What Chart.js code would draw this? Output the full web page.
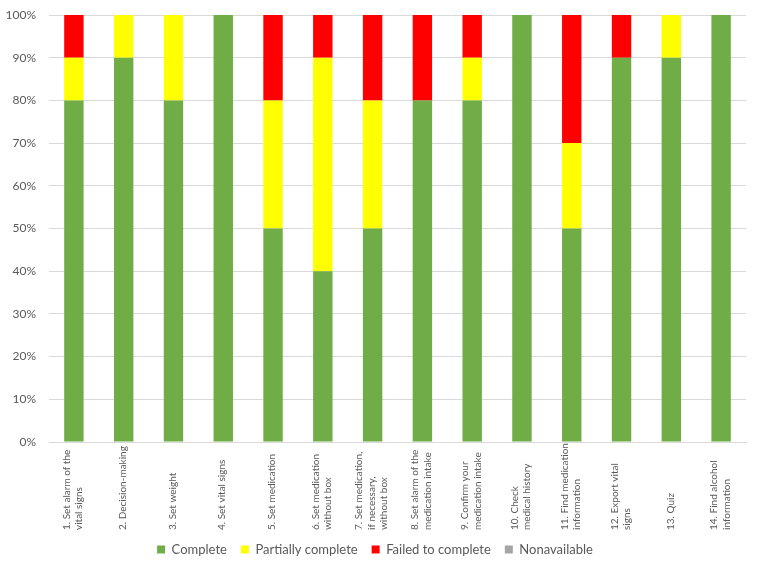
<!DOCTYPE html>
<html>
<head>
<meta charset="utf-8">
<script src="https://cdn.jsdelivr.net/npm/chart.js@4"></script>
<style>
html,body{margin:0;padding:0;background:#fff;}
#wrap{width:757px;height:576px;}
</style>
</head>
<body>
<div id="wrap"><canvas id="c"></canvas></div>
<script>
const categories = [
  ["1. Set alarm of the","vital signs"],
  ["2. Decision-making"],
  ["3. Set weight"],
  ["4. Set vital signs"],
  ["5. Set medication"],
  ["6. Set medication","without box"],
  ["7. Set medication,","if necessary,","without box"],
  ["8. Set alarm of the","medication intake"],
  ["9. Confirm your","medication intake"],
  ["10. Check","medical history"],
  ["11. Find medication","information"],
  ["12. Export vital","signs"],
  ["13. Quiz"],
  ["14. Find alcohol","information"]
];
const complete = [80,90,80,100,50,40,50,80,80,100,50,90,90,100];
const partial = [10,10,20,0,30,50,30,0,10,0,20,0,10,0];
const failed = [10,0,0,0,20,10,20,20,10,0,30,10,0,0];
const nonavailable = [0,0,0,0,0,0,0,0,0,0,0,0,0,0];
const yTicks = [0,10,20,30,40,50,60,70,80,90,100];

const FONT = "Lato, 'Open Sans', sans-serif";
const TEXT = '#595959';

// Draws the category labels rotated, start-aligned at a common baseline (like the original)
const rotatedLabels = {
  id: 'rotatedLabels',
  afterDraw(chart) {
    const xs = chart.scales.x;
    const ctx = chart.ctx;
    const lh = 12.5;
    ctx.save();
    ctx.fillStyle = TEXT;
    ctx.font = "10px " + FONT;
    ctx.textAlign = 'left';
    ctx.textBaseline = 'middle';
    const startY = xs.top + 88;
    chart.data.labels.forEach((lab, i) => {
      const lines = Array.isArray(lab) ? lab : [lab];
      const x = xs.getPixelForTick(i) - 1;
      ctx.save();
      ctx.translate(x, startY);
      ctx.rotate(-Math.PI / 2);
      lines.forEach((ln, j) => {
        ctx.fillText(ln, 0, (j - (lines.length - 1) / 2) * lh);
      });
      ctx.restore();
    });
    ctx.restore();
  }
};

new Chart(document.getElementById('c'), {
  type: 'bar',
  data: {
    labels: categories,
    datasets: [
      {label:'Complete', data: complete, backgroundColor:'#70AD47'},
      {label:'Partially complete', data: partial, backgroundColor:'#FFFF00'},
      {label:'Failed to complete', data: failed, backgroundColor:'#FF0000'},
      {label:'Nonavailable', data: nonavailable, backgroundColor:'#A5A5A5'}
    ]
  },
  plugins: [rotatedLabels],
  options: {
    responsive:true,
    maintainAspectRatio:false,
    animation:false,
    layout:{padding:{left:4,right:11,top:15,bottom:10}},
    datasets:{bar:{barPercentage:0.39,categoryPercentage:1.0}},
    plugins:{
      legend:{
        position:'bottom',
        labels:{boxWidth:8,boxHeight:8,color:TEXT,font:{family:FONT,size:13},padding:14}
      },
      tooltip:{enabled:false}
    },
    scales:{
      x:{
        stacked:true,
        grid:{display:false},
        border:{display:true,color:'#d9d9d9'},
        ticks:{display:false},
        afterFit:(s)=>{ s.height = 87; s.paddingLeft = 0; s.paddingRight = 0; }
      },
      y:{
        stacked:true,
        min:0,max:100,
        afterBuildTicks:(s)=>{s.ticks = yTicks.map(v=>({value:v}));},
        afterFit:(s)=>{ s.width = 45; s.paddingTop = 0; s.paddingBottom = 0; },
        grid:{color:'#d9d9d9',drawTicks:false},
        border:{display:false},
        ticks:{color:TEXT,font:{family:FONT,size:12},padding:13,callback:(v)=>v+'%'}
      }
    }
  }
});
</script>
</body>
</html>
